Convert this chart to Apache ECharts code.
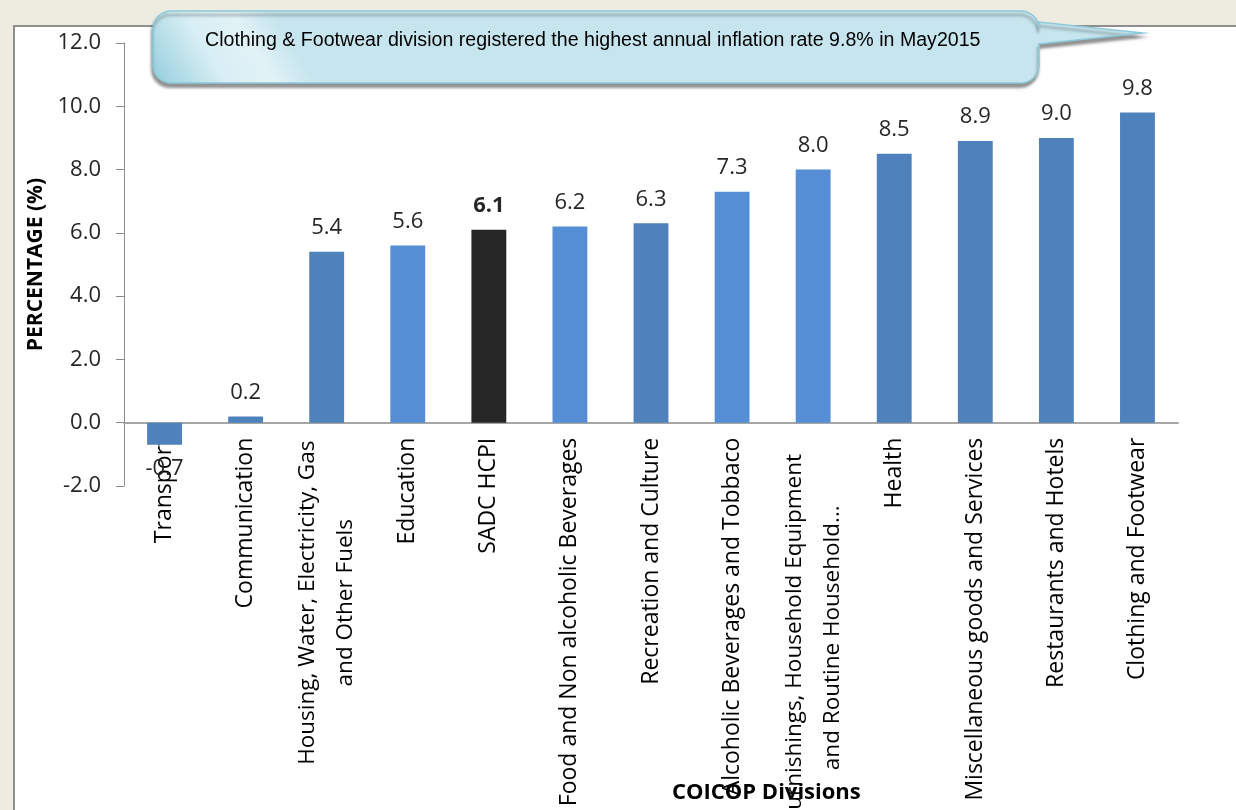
<!DOCTYPE html>
<html>
<head>
<meta charset="utf-8">
<script src="https://cdn.jsdelivr.net/npm/echarts@6/dist/echarts.min.js"></script>
<style>
  html, body { margin: 0; padding: 0; width: 1236px; height: 810px; overflow: hidden; background: #EEECE1; }
  .panel {
    position: absolute; left: 13px; top: 25px; width: 1400px; height: 1000px;
    background: #fff; border-left: 2px solid #8e8e8e; border-top: 2px solid #8e8e8e;
  }
  #chart { position: absolute; left: 0; top: 0; width: 1236px; height: 810px; }
</style>
</head>
<body>
<div class="panel"></div>
<div id="chart"></div>
<script>
// COICOP divisions, annual inflation May 2015
const categories = [
  'Transport',
  'Communication',
  'Housing, Water, Electricity, Gas\nand Other Fuels',
  'Education',
  'SADC HCPI',
  'Food and Non alcoholic Beverages',
  'Recreation and Culture',
  'Alcoholic Beverages and Tobbaco',
  'Furnishings, Household Equipment\nand Routine Household...',
  'Health',
  'Miscellaneous goods and Services',
  'Restaurants and Hotels',
  'Clothing and Footwear'
];
const values = [-0.7, 0.2, 5.4, 5.6, 6.1, 6.2, 6.3, 7.3, 8.0, 8.5, 8.9, 9.0, 9.8];
const yTicks = { min: -2, max: 12, interval: 2 };
const calloutText = 'Clothing & Footwear division registered the highest annual inflation rate 9.8% in May2015';

const DARK = '#4F81BD', LIGHT = '#558ED5', BLACK = '#262626';
const barColors = [DARK, DARK, DARK, LIGHT, BLACK, LIGHT, DARK, LIGHT, LIGHT, DARK, DARK, DARK, DARK];
const font = '"Open Sans", "Noto Sans", sans-serif';

// plot box in px
const GRID = { left: 124, right: 58, top: 43, bottom: 324 };
const plotH = 810 - GRID.top - GRID.bottom;
// category axis sits on the zero line
const zeroOffset = -plotH * (0 - yTicks.min) / (yTicks.max - yTicks.min);

// outline of the speech-bubble (rounded box with a tail to the right)
function calloutPoints(x0, y0, x1, y1, r, tail) {
  const pts = [];
  const arc = (cx, cy, a0, a1) => {
    for (let k = 0; k <= 8; k++) {
      const a = a0 + (a1 - a0) * k / 8;
      pts.push([cx + r * Math.cos(a), cy + r * Math.sin(a)]);
    }
  };
  arc(x0 + r, y0 + r, Math.PI, Math.PI * 1.5);
  arc(x1 - r, y0 + r, Math.PI * 1.5, Math.PI * 2);
  pts.push([x1, tail.y0], [tail.x, tail.y], [x1, tail.y1]);
  arc(x1 - r, y1 - r, 0, Math.PI * 0.5);
  arc(x0 + r, y1 - r, Math.PI * 0.5, Math.PI);
  return pts;
}

const chart = echarts.init(document.getElementById('chart'), null, { renderer: 'canvas' });

const seriesData = values.map((v, i) => ({
  value: v,
  itemStyle: { color: barColors[i] },
  label: {
    position: v < 0 ? 'bottom' : 'top',
    fontWeight: categories[i] === 'SADC HCPI' ? 'bold' : 'normal'
  }
}));

chart.setOption({
  backgroundColor: 'transparent',
  animation: false,
  grid: Object.assign({ containLabel: false, outerBoundsMode: 'none' }, GRID),
  xAxis: {
    type: 'category',
    data: categories,
    offset: zeroOffset,
    axisLine: { onZero: false, lineStyle: { color: '#a6a6a6', width: 2 } },
    axisTick: { show: false },
    axisLabel: {
      interval: 0,
      rotate: 90,
      margin: 15,
      color: '#000',
      fontFamily: font,
      fontSize: 23,
      lineHeight: 38,
      formatter: function (v) {
        if (v.indexOf('\n') < 0) return v;
        const key = v.indexOf('Housing') === 0 ? 'a' : 'b';
        return v.split('\n').map(l => '{' + key + '|' + l + '}').join('\n');
      },
      rich: {
        a: { width: 330, align: 'center', fontFamily: font, fontSize: 22.5, lineHeight: 38, color: '#000' },
        b: { width: 400, align: 'center', fontFamily: font, fontSize: 22.5, lineHeight: 38, color: '#000' }
      }
    }
  },
  yAxis: {
    type: 'value',
    min: yTicks.min,
    max: yTicks.max,
    interval: yTicks.interval,
    name: 'PERCENTAGE (%)',
    nameLocation: 'middle',
    nameRotate: 90,
    nameGap: 77,
    nameTextStyle: { fontFamily: font, fontSize: 21, fontWeight: 'bold', color: '#000' },
    axisLine: { show: true, lineStyle: { color: '#8c8c8c', width: 1 } },
    axisTick: { show: true, length: 8, lineStyle: { color: '#8c8c8c' } },
    splitLine: { show: false },
    axisLabel: {
      margin: 23,
      color: '#262626',
      fontFamily: font,
      fontSize: 22,
      formatter: v => v.toFixed(1)
    }
  },
  series: [{
    type: 'bar',
    data: seriesData,
    barWidth: '43%',
    label: {
      show: true,
      distance: 13,
      color: '#262626',
      fontFamily: font,
      fontSize: 22,
      formatter: p => p.value.toFixed(1)
    }
  }],
  graphic: [
    {
      type: 'text',
      x: 672,
      y: 782,
      z: 50,
      style: { text: 'COICOP Divisions', fontFamily: font, fontSize: 22, fontWeight: 'bold', fill: '#000' }
    },
    {
      type: 'polygon',
      z: 100,
      shape: {
        points: calloutPoints(153, 11, 1039, 83, 18, { y0: 22, x: 1143, y: 33, y1: 44 })
      },
      style: {
        fill: new echarts.graphic.LinearGradient(0, 1, 0.12, 0, [
          { offset: 0, color: '#92cddc' },
          { offset: 0.45, color: '#d7eef4' },
          { offset: 0.75, color: '#e2f2f7' },
          { offset: 1, color: '#c6e5ee' }
        ]),
        stroke: '#8cc9d9',
        lineWidth: 1.5,
        shadowBlur: 3,
        shadowOffsetY: 4,
        shadowOffsetX: -1,
        shadowColor: 'rgba(60,60,60,0.55)'
      }
    },
    {
      type: 'text',
      x: 205,
      y: 41,
      z: 101,
      style: {
        text: calloutText,
        fontFamily: '"Liberation Sans", Arial, sans-serif',
        fontSize: 19.6,
        fill: '#000',
        verticalAlign: 'middle'
      }
    }
  ]
});
</script>
</body>
</html>
